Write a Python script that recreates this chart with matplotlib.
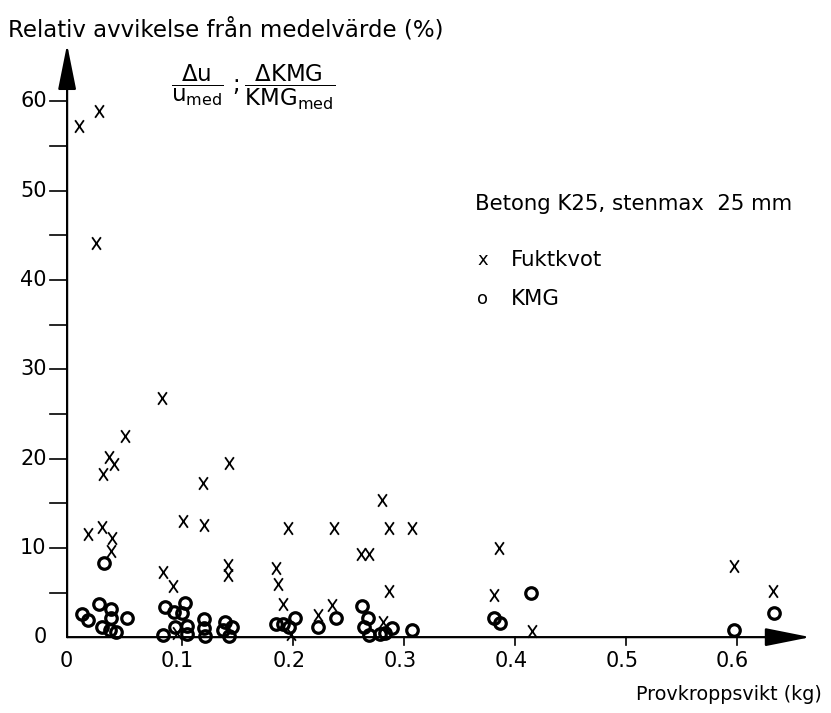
import numpy as np
import matplotlib
matplotlib.use("Agg")
import matplotlib.pyplot as plt
from matplotlib.path import Path

plt.rcParams['font.family'] = ['DejaVu Sans']
plt.rcParams['mathtext.fontset'] = 'dejavusans'

# Fuktkvot (x markers): sample weight (kg), relative deviation (%)
fukt_x = [0.007, 0.025, 0.022, 0.082, 0.049, 0.034, 0.039, 0.029, 0.142, 0.119,
          0.015, 0.028, 0.037, 0.036, 0.101, 0.120, 0.083, 0.092, 0.141, 0.141,
          0.095, 0.195, 0.237, 0.280, 0.286, 0.307, 0.261, 0.268, 0.185, 0.186,
          0.191, 0.286, 0.222, 0.235, 0.281, 0.198, 0.385, 0.381, 0.415, 0.597,
          0.632]
fukt_y = [57.2, 58.9, 44.2, 26.8, 22.5, 20.2, 19.4, 18.3, 19.5, 17.3,
          11.5, 12.3, 11.1, 9.6, 13.0, 12.6, 7.3, 5.7, 8.1, 7.0,
          0.5, 12.2, 12.2, 15.4, 12.2, 12.2, 9.3, 9.3, 7.7, 6.0,
          3.7, 5.2, 2.5, 3.6, 1.7, 0.3, 10.0, 4.7, 0.7, 8.0,
          5.2]

# KMG (circles)
kmg_x = [0.030, 0.010, 0.015, 0.025, 0.036, 0.036, 0.050, 0.028, 0.035, 0.040,
         0.083, 0.085, 0.093, 0.103, 0.100, 0.094, 0.104, 0.104, 0.120, 0.120,
         0.121, 0.139, 0.137, 0.145, 0.142, 0.185, 0.191, 0.196, 0.202, 0.222,
         0.239, 0.262, 0.267, 0.264, 0.268, 0.278, 0.283, 0.289, 0.307, 0.381,
         0.386, 0.414, 0.597, 0.633]
kmg_y = [8.3, 2.6, 1.9, 3.7, 3.1, 2.1, 2.1, 1.1, 0.8, 0.6,
         0.2, 3.4, 2.8, 3.8, 2.7, 1.1, 1.2, 0.4, 2.0, 1.0,
         0.1, 1.7, 0.8, 1.1, 0.1, 1.5, 1.5, 1.1, 2.1, 1.1,
         2.2, 3.5, 2.2, 1.1, 0.2, 0.3, 0.5, 1.0, 0.8, 2.2,
         1.6, 5.0, 0.8, 2.7]

xticks = [0, 0.1, 0.2, 0.3, 0.4, 0.5, 0.6]
xticklabels = ['0', '0.1', '0.2', '0.3', '0.4', '0.5', '0.6']
yticks = [0, 10, 20, 30, 40, 50, 60]

fig = plt.figure(figsize=(8.31, 7.13), dpi=100)
ax = fig.add_axes([60/831, 58/713, 766/831, 616/713])
ax.set_xlim(-0.01, 0.68)
ax.set_ylim(-2, 67)
for s in ax.spines.values():
    s.set_visible(False)

# tall thin x marker
xmark = Path([(-0.35, -0.5), (0.35, 0.5), (-0.35, 0.5), (0.35, -0.5)],
             [Path.MOVETO, Path.LINETO, Path.MOVETO, Path.LINETO])

ax.plot(fukt_x, fukt_y, ls='none', marker=xmark, ms=9, mew=1.3,
        color='black', clip_on=False, zorder=3)
ax.plot(kmg_x, kmg_y, ls='none', marker='o', ms=8.3, mew=2.3,
        mfc='none', mec='black', clip_on=False, zorder=3)

# axes with arrows
x0 = -0.0036
ax.annotate('', xy=(0.666, 0), xytext=(x0, 0),
            arrowprops=dict(arrowstyle='-|>,head_length=1.4,head_width=0.28',
                            mutation_scale=20, lw=1.6, color='black',
                            shrinkA=0, shrinkB=0))
ax.annotate('', xy=(x0, 66.4), xytext=(x0, 0),
            arrowprops=dict(arrowstyle='-|>,head_length=1.4,head_width=0.28',
                            mutation_scale=20, lw=1.6, color='black',
                            shrinkA=0, shrinkB=0))

# ticks drawn manually
for xt in xticks[1:]:
    ax.plot([xt, xt], [0, -0.9], color='black', lw=1.2, clip_on=False)
for yt in range(5, 65, 5):
    ax.plot([x0 - 0.015, x0], [yt, yt], color='black', lw=1.2, clip_on=False)

ax.set_xticks([])
ax.set_yticks([])
for xt, lab in zip(xticks, xticklabels):
    ax.text(xt - 0.004, -1.6, lab, ha='center', va='top', fontsize=15)
for yt in yticks:
    ax.text(-0.022, yt, str(yt), ha='right', va='center', fontsize=15)

fig.text(8/831, 1 - 30/713, 'Relativ avvikelse från medelvärde (%)',
         ha='left', va='center', fontsize=16.5)
fig.text(822/831, 1 - 695/713, 'Provkroppsvikt (kg)',
         ha='right', va='center', fontsize=13.8)

ax.text(0.090, 61.6,
        r'$\dfrac{\Delta\mathrm{u}}{\mathrm{u}_{\mathrm{med}}}\ ;\dfrac{\Delta\mathrm{KMG}}{\mathrm{KMG}_{\mathrm{med}}}$',
        ha='left', va='center', fontsize=16.5)

ax.text(0.364, 48.5, 'Betong K25, stenmax  25 mm', ha='left', va='center',
        fontsize=15.3)
ax.text(0.371, 42.3, 'x', ha='center', va='center', fontsize=13)
ax.text(0.396, 42.3, 'Fuktkvot', ha='left', va='center', fontsize=15.3)
ax.text(0.371, 37.9, 'o', ha='center', va='center', fontsize=13)
ax.text(0.396, 37.9, 'KMG', ha='left', va='center', fontsize=15.3)

fig.savefig('out.png', dpi=100)
